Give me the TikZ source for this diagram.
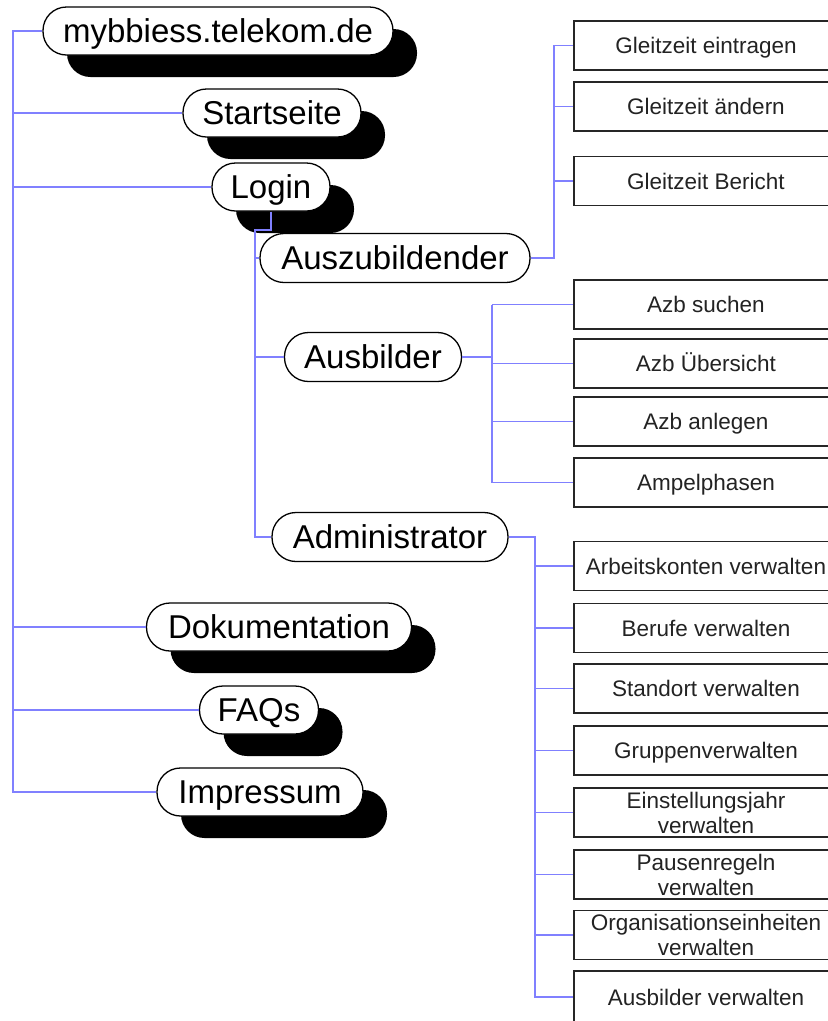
\documentclass[tikz,border=0pt]{standalone}
\usepackage{fontspec}
\setmainfont{Liberation Sans}
\usetikzlibrary{shadows}
\definecolor{linkblue}{RGB}{128,128,255}
\definecolor{boxtext}{RGB}{35,35,35}
\tikzset{
  pill/.style={rectangle, draw=black, line width=1.3pt, fill=white,
    rounded corners=23.5pt, minimum height=48pt, inner sep=0pt,
    text height=23.6pt, text depth=0pt,
    font=\fontsize{33}{36}\selectfont,
    drop shadow={shadow xshift=24pt, shadow yshift=-22pt, opacity=1, fill=black}},
  subpill/.style={rectangle, draw=black, line width=1.3pt, fill=white,
    rounded corners=24pt, minimum height=49pt, inner sep=0pt,
    text height=23.6pt, text depth=0pt,
    font=\fontsize{33}{36}\selectfont},
  boxbase/.style={rectangle, draw=black!85, line width=1.3pt, fill=white,
    minimum width=264pt, minimum height=49pt, inner sep=0pt, align=center,
    text=boxtext, font=\fontsize{22.5}{25}\selectfont},
  menubox/.style={boxbase, text height=16.1pt, text depth=0pt},
  twolinebox/.style={boxbase},
  link/.style={draw=linkblue, line width=1.2pt}
}
\begin{document}
\begin{tikzpicture}[x=1pt,y=-1pt]
\fill[white] (0,0) rectangle (828,1021);
\useasboundingbox (0,0) rectangle (828,1021);

% top level pills
\node[pill, minimum width=350pt] (root) at (218,31) {mybbiess.telekom.de};
\node[pill, minimum width=178pt] (start) at (272,113) {Startseite};
\node[pill, minimum width=118pt] (login) at (271,187) {Login};
\node[pill, minimum width=265pt] (doku) at (279,627) {Dokumentation};
\node[pill, minimum width=119pt] (faq) at (259,710) {FAQs};
\node[pill, minimum width=206pt] (imp) at (260,792) {Impressum};

% second level pills
\node[subpill, minimum width=270pt] (azubi) at (395,258) {Auszubildender};
\node[subpill, minimum width=177pt] (ausb) at (373,357) {Ausbilder};
\node[subpill, minimum width=236pt] (admin) at (390,537) {Administrator};

% boxes
\node[menubox] (g1) at (706,45.5) {Gleitzeit eintragen};
\node[menubox] (g2) at (706,106.5) {Gleitzeit ändern};
\node[menubox] (g3) at (706,181) {Gleitzeit Bericht};

\node[menubox] (b1) at (706,304.5) {Azb suchen};
\node[menubox] (b2) at (706,363.5) {Azb Übersicht};
\node[menubox] (b3) at (706,421.5) {Azb anlegen};
\node[menubox] (b4) at (706,482.5) {Ampelphasen};

\node[menubox] (c1) at (706,566) {Arbeitskonten verwalten};
\node[menubox] (c2) at (706,628) {Berufe verwalten};
\node[menubox] (c3) at (706,688.5) {Standort verwalten};
\node[menubox] (c4) at (706,750.5) {Gruppenverwalten};
\node[twolinebox] (c5) at (706,812.5) {Einstellungsjahr\\verwalten};
\node[twolinebox] (c6) at (706,874.5) {Pausenregeln\\verwalten};
\node[twolinebox] (c7) at (706,935) {Organisationseinheiten\\verwalten};
\node[menubox, minimum height=52pt] (c8) at (706,997) {Ausbilder verwalten};

% junction coordinates
\coordinate (t0) at (13,31);
\coordinate (lj) at (255,230);
\coordinate (aj) at (554,258);
\coordinate (bj) at (492,357);
\coordinate (cj) at (535,537);

% root trunk
\draw[link] (root.west) -- (t0) -- (t0 |- imp.west) -- (imp.west);
\draw[link] (t0 |- start.west) -- (start.west);
\draw[link] (t0 |- login.west) -- (login.west);
\draw[link] (t0 |- doku.west) -- (doku.west);
\draw[link] (t0 |- faq.west) -- (faq.west);

% login branch
\draw[link] (login.south) |- (lj) -- (lj |- admin.west) -- (admin.west);
\draw[link] (lj |- azubi.west) -- (azubi.west);
\draw[link] (lj |- ausb.west) -- (ausb.west);

% Auszubildender branch
\draw[link] (azubi.east) -- (aj) |- (g1.west);
\draw[link] (aj |- g2.west) -- (g2.west);
\draw[link] (aj |- g3.west) -- (g3.west);

% Ausbilder branch
\draw[link] (ausb.east) -- (bj);
\draw[link] (bj |- b1.west) -- (bj |- b4.west);
\draw[link] (bj |- b1.west) -- (b1.west);
\draw[link] (bj |- b2.west) -- (b2.west);
\draw[link] (bj |- b3.west) -- (b3.west);
\draw[link] (bj |- b4.west) -- (b4.west);

% Administrator branch
\draw[link] (admin.east) -- (cj) |- (c8.west);
\draw[link] (cj |- c1.west) -- (c1.west);
\draw[link] (cj |- c2.west) -- (c2.west);
\draw[link] (cj |- c3.west) -- (c3.west);
\draw[link] (cj |- c4.west) -- (c4.west);
\draw[link] (cj |- c5.west) -- (c5.west);
\draw[link] (cj |- c6.west) -- (c6.west);
\draw[link] (cj |- c7.west) -- (c7.west);
\end{tikzpicture}
\end{document}
